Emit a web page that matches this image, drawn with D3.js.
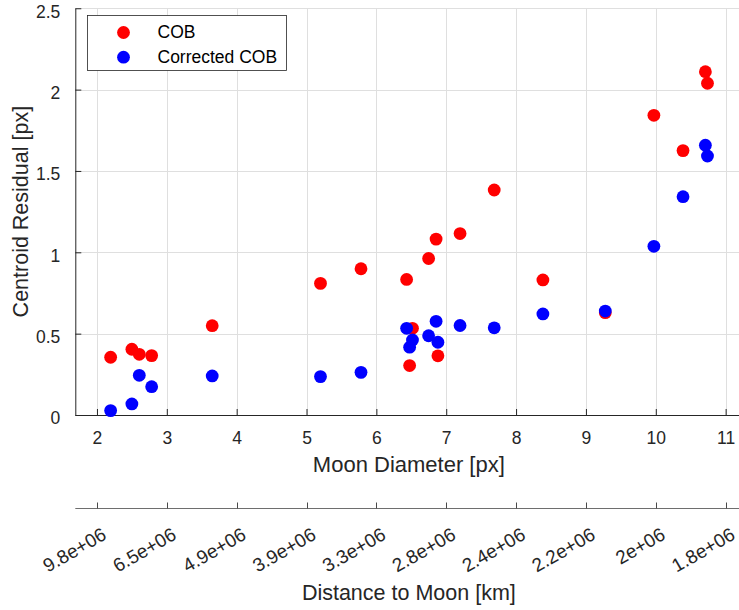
<!DOCTYPE html>
<html>
<head>
<meta charset="utf-8">
<script src="https://cdn.jsdelivr.net/npm/d3@7"></script>
<style>
  body { margin: 0; background: #fff; }
  svg { display: block; font-family: "Liberation Sans", Arial, Helvetica, sans-serif; }
</style>
</head>
<body>
<div id="chart"></div>
<script>
// moon diameter [px] of each image
var diameters = [2.196, 2.50, 2.606, 2.783, 3.65, 5.20, 5.78, 6.433, 6.476, 6.517, 6.748,
  6.855, 6.881, 7.198, 7.687, 8.384, 9.277, 9.973, 10.39, 10.71, 10.74];

// centroid residuals [px]
var cob = [0.355, 0.404, 0.373, 0.365, 0.549, 0.809, 0.899, 0.833, 0.304, 0.533, 0.962,
  1.081, 0.364, 1.115, 1.383, 0.830, 0.629, 1.842, 1.625, 2.110, 2.039];
var corrected = [0.027, 0.068, 0.244, 0.174, 0.240, 0.236, 0.262, 0.533, 0.417, 0.461, 0.487,
  0.576, 0.447, 0.550, 0.536, 0.621, 0.639, 1.037, 1.342, 1.658, 1.592];

var xTicks = [2, 3, 4, 5, 6, 7, 8, 9, 10, 11];
var yTicks = [0, 0.5, 1, 1.5, 2, 2.5];
var distLabels = ["9.8e+06", "6.5e+06", "4.9e+06", "3.9e+06", "3.3e+06",
  "2.8e+06", "2.4e+06", "2.2e+06", "2e+06", "1.8e+06"];

var series = [
  {name: "COB", values: cob, color: "#ff0000"},
  {name: "Corrected COB", values: corrected, color: "#0000ff"}
];

var W = 739, H = 610;
var axisColor = "#262626";
var gridColor = "#dfdfdf";

var svg = d3.select("#chart").append("svg")
  .attr("width", W)
  .attr("height", H);

var x = d3.scaleLinear().domain([1.69, 11.24]).range([75.3, 742.4]);
var y = d3.scaleLinear().domain([0, 2.5]).range([415, 8.25]);

// grid
svg.append("g").selectAll("line.gx")
  .data(xTicks).enter().append("line")
  .attr("x1", function(d) { return Math.round(x(d)) + 0.5; })
  .attr("x2", function(d) { return Math.round(x(d)) + 0.5; })
  .attr("y1", y(2.5)).attr("y2", y(0))
  .attr("stroke", gridColor);

svg.append("g").selectAll("line.gy")
  .data(yTicks).enter().append("line")
  .attr("y1", function(d) { return Math.round(y(d)) + 0.5; })
  .attr("y2", function(d) { return Math.round(y(d)) + 0.5; })
  .attr("x1", x.range()[0]).attr("x2", x.range()[1])
  .attr("stroke", gridColor);

// axes, ticks pointing inward like matlab
var xAxis = d3.axisBottom(x).tickValues(xTicks).tickSizeInner(-6).tickSizeOuter(0)
  .tickPadding(16).tickFormat(d3.format("d"));
var gx = svg.append("g")
  .attr("transform", "translate(0," + y(0) + ")")
  .call(xAxis);

var yAxis = d3.axisLeft(y).tickValues(yTicks).tickSizeInner(-6).tickSizeOuter(0)
  .tickPadding(15).tickFormat(function(d) { return d; });
var gy = svg.append("g")
  .attr("transform", "translate(" + x.range()[0] + ",0)")
  .call(yAxis);

[gx, gy].forEach(function(g) {
  g.select(".domain").attr("stroke", axisColor);
  g.selectAll(".tick line").attr("stroke", axisColor);
  g.selectAll(".tick text").attr("fill", axisColor)
    .style("font-size", "17.5px").style("font-family", null);
});
gx.selectAll(".tick text").attr("y", 23).attr("dy", "0.35em");
// matlab sits the y labels a little below their ticks
gy.selectAll(".tick text").attr("y", 3.2);

// secondary axis: distance to moon
var gd = svg.append("g")
  .attr("transform", "translate(0,508.5)");
gd.append("line")
  .attr("x1", x.range()[0]).attr("x2", x.range()[1])
  .attr("stroke", "#6e6e6e");
gd.selectAll("line.t")
  .data(xTicks).enter().append("line")
  .attr("x1", function(d) { return Math.round(x(d)) + 0.5; })
  .attr("x2", function(d) { return Math.round(x(d)) + 0.5; })
  .attr("y1", 0).attr("y2", -6)
  .attr("stroke", "#4a4a4a");
gd.selectAll("text")
  .data(xTicks).enter().append("text")
  .attr("text-anchor", "end")
  .attr("dy", "0.35em")
  .attr("fill", axisColor)
  .style("font-size", "19px")
  .attr("transform", function(d) {
    return "translate(" + (x(d) + 7.5) + ",24) rotate(-30)";
  })
  .text(function(d, i) { return distLabels[i]; });

// axis labels
var midX = (x.range()[0] + x.range()[1]) / 2;
svg.append("text")
  .attr("x", midX).attr("y", 472)
  .attr("text-anchor", "middle").attr("fill", axisColor)
  .style("font-size", "22px")
  .text("Moon Diameter [px]");

svg.append("text")
  .attr("x", midX).attr("y", 600)
  .attr("text-anchor", "middle").attr("fill", axisColor)
  .style("font-size", "21.5px")
  .text("Distance to Moon [km]");

svg.append("text")
  .attr("transform", "translate(28," + ((y(0) + y(2.5)) / 2) + ") rotate(-90)")
  .attr("text-anchor", "middle").attr("fill", axisColor)
  .style("font-size", "21.5px")
  .text("Centroid Residual [px]");

// points
series.forEach(function(s) {
  svg.append("g").selectAll("circle")
    .data(s.values).enter().append("circle")
    .attr("cx", function(d, i) { return x(diameters[i]); })
    .attr("cy", function(d) { return y(d); })
    .attr("r", 6.4)
    .attr("fill", s.color);
});

// legend
var lg = svg.append("g").attr("transform", "translate(87.5,15.5)");
lg.append("rect")
  .attr("width", 199).attr("height", 55)
  .attr("fill", "#fff").attr("stroke", axisColor).attr("stroke-width", 0.8);
series.forEach(function(s, i) {
  lg.append("circle")
    .attr("cx", 36).attr("cy", 17 + i * 24.7)
    .attr("r", 6.4).attr("fill", s.color);
  lg.append("text")
    .attr("x", 70).attr("y", 22 + i * 25)
    .attr("fill", "#000")
    .style("font-size", "17.5px")
    .text(s.name);
});
</script>
</body>
</html>
